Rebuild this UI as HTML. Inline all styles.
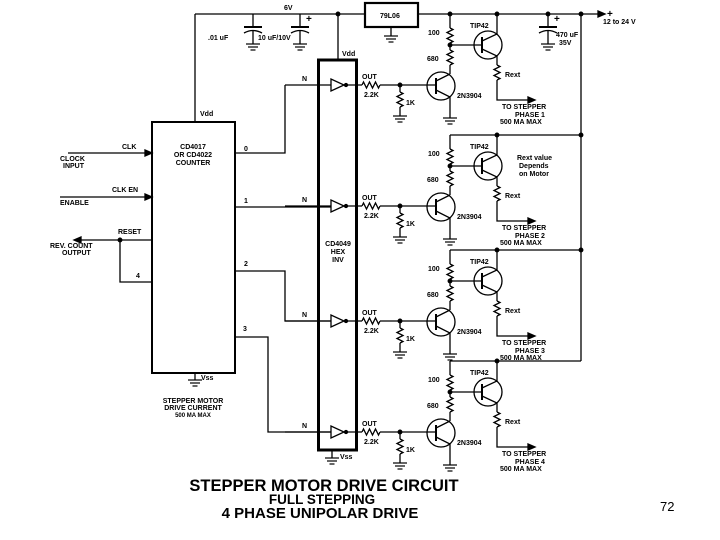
<!DOCTYPE html>
<html><head><meta charset="utf-8"><style>
html,body{margin:0;padding:0;background:#fff}
svg{display:block}
text{font-family:"Liberation Sans",sans-serif;font-weight:bold;fill:#000}
.s{font-size:7px}
</style></head><body>
<svg width="720" height="540" viewBox="0 0 720 540" xmlns="http://www.w3.org/2000/svg">
<defs>
<g id="gnd" stroke="#000" stroke-width="1.2" fill="none">
<line x1="-7" y1="0" x2="7" y2="0"/><line x1="-5" y1="3" x2="5" y2="3"/><line x1="-2.5" y1="6" x2="2.5" y2="6"/>
</g>
<g id="phase" stroke="#000" stroke-width="1.3" fill="none">
<line x1="450" y1="14" x2="450" y2="28"/>
<path d="M450 28 l3 1.5 l-6 3 l6 3 l-6 3 l6 3 l-3 1.5"/>
<line x1="450" y1="43" x2="450" y2="50"/>
<path d="M450 50 l3 1.5 l-6 3 l6 3 l-6 3 l6 3 l-3 1.5"/>
<line x1="450" y1="65" x2="450" y2="74"/>
<circle cx="450" cy="45" r="1.8" fill="#000"/>
<line x1="450" y1="45" x2="482" y2="45"/>
<circle cx="488" cy="45" r="14"/>
<line x1="482" y1="37" x2="482" y2="53" stroke-width="2"/>
<polyline points="482,41 497,34 497,14"/>
<polyline points="482,49 497,56 497,65"/>
<path d="M497 65 l3 1.5 l-6 3 l6 3 l-6 3 l6 3 l-3 1.5"/>
<polyline points="497,80 497,100 528,100"/>
<polygon points="528,97 535,100 528,103" fill="#000"/>
<circle cx="441" cy="86" r="14"/>
<line x1="436" y1="78" x2="436" y2="94" stroke-width="2"/>
<line x1="345" y1="85" x2="362" y2="85"/>
<path d="M362 85 l1.5 -3 l3 6 l3 -6 l3 6 l3 -6 l3 6 l1.5 -3"/>
<line x1="380" y1="85" x2="436" y2="85"/>
<polyline points="436,81 450,74"/>
<polyline points="436,90 450,97 450,118"/>
<use href="#gnd" x="450" y="118"/>
<circle cx="400" cy="85" r="1.8" fill="#000"/>
<line x1="400" y1="85" x2="400" y2="92"/>
<path d="M400 92 l3 1.5 l-6 3 l6 3 l-6 3 l6 3 l-3 1.5"/>
<line x1="400" y1="107" x2="400" y2="116"/>
<use href="#gnd" x="400" y="116"/>
<polygon points="331,79 331,91 344,85"/>
<circle cx="346" cy="85" r="1.5" fill="#000"/>
<line x1="285" y1="85" x2="331" y2="85"/>
</g>
<g id="plab">
<text class="s" x="302" y="81">N</text>
<text class="s" x="362" y="79">OUT</text>
<text class="s" x="364" y="97">2.2K</text>
<text class="s" x="406" y="105">1K</text>
<text class="s" x="428" y="35">100</text>
<text class="s" x="427" y="61">680</text>
<text class="s" x="470" y="28">TIP42</text>
<text class="s" x="505" y="77">Rext</text>
<text class="s" x="457" y="98">2N3904</text>
<text class="s" x="502" y="109">TO STEPPER</text>
<text class="s" x="500" y="124">500 MA MAX</text>
</g>
</defs>

<g stroke="#000" stroke-width="1.3" fill="none">
<line x1="195" y1="14" x2="365" y2="14"/>
<line x1="418" y1="14" x2="598" y2="14"/>
<line x1="195" y1="14" x2="195" y2="122"/>
<rect x="365" y="3" width="53" height="24" stroke-width="2.2"/>
<line x1="391" y1="27" x2="391" y2="36"/>
<line x1="338" y1="14" x2="338" y2="60"/>
<circle cx="338" cy="14" r="1.8" fill="#000"/>
<line x1="253" y1="14" x2="253" y2="27"/><line x1="244" y1="27" x2="262" y2="27" stroke-width="2"/>
<path d="M244 33 Q253 28 262 33"/><line x1="253" y1="30" x2="253" y2="44"/>
<line x1="300" y1="14" x2="300" y2="27"/><line x1="291" y1="27" x2="309" y2="27" stroke-width="2"/>
<path d="M291 33 Q300 28 309 33"/><line x1="300" y1="30" x2="300" y2="44"/>
<line x1="548" y1="14" x2="548" y2="27"/><line x1="539" y1="27" x2="557" y2="27" stroke-width="2"/>
<path d="M539 33 Q548 28 557 33"/><line x1="548" y1="30" x2="548" y2="44"/>
<circle cx="548" cy="14" r="1.8" fill="#000"/>
<circle cx="497" cy="14" r="1.8" fill="#000"/>
<circle cx="450" cy="14" r="1.8" fill="#000"/>
<circle cx="581" cy="14" r="1.8" fill="#000"/>
<polygon points="598,11 605,14 598,17" fill="#000"/>
<line x1="581" y1="14" x2="581" y2="361"/>
<line x1="450" y1="135" x2="581" y2="135"/>
<line x1="450" y1="250" x2="581" y2="250"/>
<line x1="450" y1="361" x2="581" y2="361"/>
<circle cx="497" cy="135" r="1.8" fill="#000"/><circle cx="581" cy="135" r="1.8" fill="#000"/>
<circle cx="497" cy="250" r="1.8" fill="#000"/><circle cx="581" cy="250" r="1.8" fill="#000"/>
<circle cx="497" cy="361" r="1.8" fill="#000"/>
<rect x="318.5" y="60" width="38" height="390" stroke-width="3"/>
<line x1="332" y1="450" x2="332" y2="458"/>
<rect x="152" y="122" width="83" height="251" stroke-width="2"/>
<line x1="195" y1="373" x2="195" y2="380"/>
<polyline points="235,153 285,153 285,85"/>
<line x1="235" y1="207" x2="331" y2="207"/>
<polyline points="235,271 285,271 285,321 331,321"/>
<polyline points="235,337 268,337 268,432 331,432"/>
<line x1="68" y1="153" x2="146" y2="153"/><polygon points="145,150 152,153 145,156" fill="#000"/>
<line x1="60" y1="197" x2="146" y2="197"/><polygon points="145,194 152,197 145,200" fill="#000"/>
<line x1="80" y1="240" x2="152" y2="240"/><polygon points="81,237 74,240 81,243" fill="#000"/>
<circle cx="120" cy="240" r="1.8" fill="#000"/>
<polyline points="120,240 120,282 152,282"/>
</g>
<use href="#gnd" x="253" y="44"/><use href="#gnd" x="300" y="44"/><use href="#gnd" x="548" y="44"/>
<use href="#gnd" x="391" y="36"/><use href="#gnd" x="195" y="380"/><use href="#gnd" x="332" y="458"/>

<use href="#phase"/><use href="#plab"/>
<g transform="translate(0,121)"><use href="#phase"/><use href="#plab"/></g>
<g transform="translate(0,236)"><use href="#phase"/><use href="#plab"/></g>
<g transform="translate(0,347)"><use href="#phase"/><use href="#plab"/></g>
<text class="s" x="515" y="117">PHASE 1</text>
<text class="s" x="515" y="238">PHASE 2</text>
<text class="s" x="515" y="353">PHASE 3</text>
<text class="s" x="515" y="464">PHASE 4</text>
<text class="s" x="517" y="160">Rext value</text>
<text class="s" x="519" y="168">Depends</text>
<text class="s" x="519" y="176">on Motor</text>

<text class="s" x="284" y="10">6V</text>
<text class="s" x="380" y="18">79L06</text>
<text class="s" x="208" y="40">.01 uF</text>
<text class="s" x="258" y="40">10 uF/10V</text>
<text class="s" x="306" y="22" style="font-size:10px">+</text>
<text class="s" x="554" y="22" style="font-size:10px">+</text>
<text class="s" x="556" y="37">470 uF</text>
<text class="s" x="559" y="45">35V</text>
<text class="s" x="607" y="17" style="font-size:10px">+</text>
<text class="s" x="603" y="24">12 to 24 V</text>
<text class="s" x="342" y="56">Vdd</text>
<text class="s" x="200" y="116">Vdd</text>
<text class="s" x="193" y="149" text-anchor="middle">CD4017</text>
<text class="s" x="193" y="157" text-anchor="middle">OR CD4022</text>
<text class="s" x="193" y="165" text-anchor="middle">COUNTER</text>
<text class="s" x="244" y="151">0</text>
<text class="s" x="244" y="203">1</text>
<text class="s" x="244" y="266">2</text>
<text class="s" x="243" y="331">3</text>
<text class="s" x="122" y="149">CLK</text>
<text class="s" x="60" y="161">CLOCK</text>
<text class="s" x="63" y="168">INPUT</text>
<text class="s" x="112" y="192">CLK EN</text>
<text class="s" x="60" y="205">ENABLE</text>
<text class="s" x="118" y="234">RESET</text>
<text class="s" x="50" y="248">REV. COUNT</text>
<text class="s" x="62" y="255">OUTPUT</text>
<text class="s" x="136" y="278">4</text>
<text class="s" x="201" y="380">Vss</text>
<text class="s" x="338" y="246" text-anchor="middle">CD4049</text>
<text class="s" x="338" y="254" text-anchor="middle">HEX</text>
<text class="s" x="338" y="262" text-anchor="middle">INV</text>
<text class="s" x="340" y="459">Vss</text>
<text class="s" x="193" y="403" text-anchor="middle">STEPPER MOTOR</text>
<text class="s" x="193" y="410" text-anchor="middle">DRIVE CURRENT</text>
<text class="s" x="193" y="417" text-anchor="middle" style="font-size:6px">500 MA MAX</text>

<text x="324" y="491" text-anchor="middle" style="font-size:16.5px">STEPPER MOTOR DRIVE CIRCUIT</text>
<text x="322" y="504" text-anchor="middle" style="font-size:13.5px">FULL STEPPING</text>
<text x="320" y="518" text-anchor="middle" style="font-size:15px">4 PHASE UNIPOLAR DRIVE</text>
<text x="660" y="511" style="font-size:13px;font-weight:normal">72</text>
</svg>
</body></html>
